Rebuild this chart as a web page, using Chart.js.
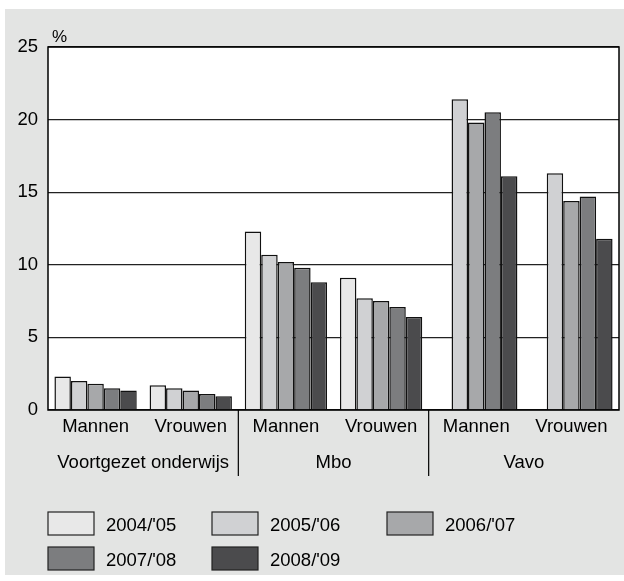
<!DOCTYPE html>
<html>
<head>
<meta charset="utf-8">
<script src="https://cdn.jsdelivr.net/npm/chart.js@4"></script>
<style>
  body { margin: 0; background: #fff; }
  canvas { display: block; }
</style>
</head>
<body>
<canvas id="myChart" width="624" height="581"></canvas>
<script>
// data
const categories = ['Mannen', 'Vrouwen', 'Mannen', 'Vrouwen', 'Mannen', 'Vrouwen'];
const groups = ['Voortgezet onderwijs', 'Mbo', 'Vavo'];
const years = ["2004/'05", "2005/'06", "2006/'07", "2007/'08", "2008/'09"];
const s0405 = [2.3, 1.7, 12.3, 9.1, null, null];
const s0506 = [2.0, 1.5, 10.7, 7.7, 21.4, 16.3];
const s0607 = [1.8, 1.35, 10.2, 7.5, 19.8, 14.4];
const s0708 = [1.5, 1.1, 9.8, 7.1, 20.5, 14.7];
const s0809 = [1.35, 0.95, 8.8, 6.4, 16.1, 11.8];
const yTicks = [0, 5, 10, 15, 20, 25];

const fills = ['#e8e8e8', '#d0d1d3', '#a7a8aa', '#7c7d7f', '#4b4b4d'];
const FONT = '"Liberation Sans", Arial, sans-serif';
const FS = 18.5;

// extra drawing: background, frame, group labels, legend
const decor = {
  id: 'decor',
  beforeDraw(chart) {
    const ctx = chart.ctx;
    ctx.save();
    ctx.fillStyle = '#e3e4e3';
    ctx.fillRect(5, 9, 619, 566);
    const a = chart.chartArea;
    ctx.fillStyle = '#fff';
    ctx.fillRect(a.left, a.top, a.right - a.left, a.bottom - a.top);
    ctx.restore();
  },
  afterDraw(chart) {
    const ctx = chart.ctx;
    const a = chart.chartArea;
    const x = chart.scales.x;
    ctx.save();
    ctx.strokeStyle = '#000';
    ctx.lineWidth = 1.5;
    ctx.strokeRect(a.left, a.top, a.right - a.left, a.bottom - a.top);

    // % label
    ctx.fillStyle = '#000';
    ctx.font = '17px ' + FONT;
    ctx.textAlign = 'left';
    ctx.textBaseline = 'alphabetic';
    ctx.fillText('%', 52, 42);

    // group separators + labels
    const step = x.getPixelForValue(1) - x.getPixelForValue(0);
    ctx.lineWidth = 1.2;
    for (let g = 1; g < groups.length; g++) {
      const bx = x.getPixelForValue(g * 2) - step / 2;
      ctx.beginPath();
      ctx.moveTo(bx, a.bottom);
      ctx.lineTo(bx, 476);
      ctx.stroke();
    }
    ctx.font = FS + 'px ' + FONT;
    ctx.textAlign = 'center';
    ctx.textBaseline = 'middle';
    groups.forEach((g, i) => {
      const cx = (x.getPixelForValue(i * 2) + x.getPixelForValue(i * 2 + 1)) / 2;
      ctx.fillText(g, cx, 463);
    });

    // legend
    const cols = [48, 212, 387];
    const rows = [512, 547];
    ctx.textAlign = 'left';
    chart.data.datasets.forEach((ds, i) => {
      const lx = cols[i % 3];
      const ly = rows[Math.floor(i / 3)];
      ctx.fillStyle = ds.backgroundColor;
      ctx.fillRect(lx, ly, 46, 23);
      ctx.strokeStyle = '#222';
      ctx.lineWidth = 1.2;
      ctx.strokeRect(lx, ly, 46, 23);
      ctx.fillStyle = '#000';
      ctx.fillText(ds.label, lx + 58, ly + 14);
    });
    ctx.restore();
  }
};

const series = [s0405, s0506, s0607, s0708, s0809];

const config = {
  type: 'bar',
  data: {
    labels: categories,
    datasets: series.map((d, i) => ({
      label: years[i],
      data: d,
      backgroundColor: fills[i],
      borderColor: '#111',
      borderWidth: 1.5,
      categoryPercentage: 0.865,
      barPercentage: 1
    }))
  },
  options: {
    responsive: false,
    animation: false,
    events: [],
    layout: { padding: { left: 0, top: 47, right: 5, bottom: 0 } },
    plugins: {
      legend: false,
      tooltip: { enabled: false }
    },
    scales: {
      x: {
        grid: { display: false, drawTicks: false },
        border: { display: false },
        ticks: {
          color: '#000',
          font: { family: FONT, size: FS },
          padding: 6,
          maxRotation: 0
        },
        afterFit(scale) { scale.height = 171; }
      },
      y: {
        min: 0,
        max: 25,
        afterBuildTicks(scale) { scale.ticks = yTicks.map(v => ({ value: v })); },
        grid: { color: '#222', lineWidth: 1.2, drawTicks: false },
        border: { display: false },
        ticks: {
          color: '#000',
          font: { family: FONT, size: FS },
          padding: 10
        },
        afterFit(scale) { scale.width = 48; }
      }
    }
  },
  plugins: [decor]
};

const myChart = new Chart(document.getElementById('myChart'), config);
</script>
</body>
</html>
